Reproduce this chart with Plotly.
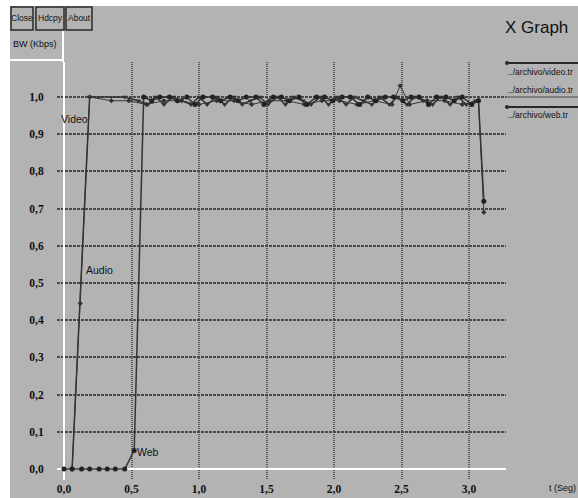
import plotly.graph_objects as go

# ---------------- data ----------------
web_t = [0.00, 0.06, 0.13, 0.19, 0.26, 0.32, 0.38, 0.45, 0.52,
         0.59, 0.65, 0.71, 0.78, 0.84, 0.91, 0.97, 1.03, 1.10, 1.16,
         1.23, 1.29, 1.35, 1.42, 1.48, 1.55, 1.61, 1.67, 1.74, 1.80,
         1.87, 1.93, 1.99, 2.06, 2.12, 2.19, 2.25, 2.31, 2.38, 2.44,
         2.51, 2.57, 2.63, 2.70, 2.76, 2.83, 2.89, 2.95, 3.02, 3.07, 3.11]
web_y = [0, 0, 0, 0, 0, 0, 0, 0, 0.05,
         1.0, 0.99, 1.0, 1.0, 0.99, 1.0, 0.98, 1.0, 1.0, 0.99,
         1.0, 0.99, 1.0, 1.0, 0.98, 1.0, 1.0, 0.99, 1.0, 0.98,
         1.0, 1.0, 0.99, 1.0, 1.0, 0.98, 1.0, 0.99, 1.0, 1.0,
         0.99, 1.0, 1.0, 0.98, 1.0, 1.0, 0.99, 1.0, 0.98, 0.99, 0.72]

video_t = [0.06, 0.19, 0.45, 0.55,
           0.62, 0.68, 0.74, 0.81, 0.87, 0.94, 1.00, 1.06, 1.13, 1.19,
           1.26, 1.32, 1.38, 1.45, 1.51, 1.58, 1.64, 1.70, 1.77, 1.83,
           1.90, 1.96, 2.02, 2.09, 2.15, 2.22, 2.28, 2.34, 2.41, 2.47,
           2.54, 2.60, 2.66, 2.73, 2.79, 2.86, 2.92, 2.98, 3.05]
video_y = [0.0, 1.0, 1.0, 0.99,
           0.98, 1.0, 0.98, 1.0, 0.99, 0.98, 1.0, 0.98, 1.0, 0.98,
           1.0, 0.98, 0.99, 1.0, 0.98, 1.0, 0.98, 1.0, 0.99, 0.98,
           1.0, 0.98, 1.0, 0.98, 1.0, 0.99, 0.98, 1.0, 0.98, 1.0,
           0.98, 1.0, 0.99, 0.98, 1.0, 0.98, 1.0, 0.98, 0.99]

audio_t = [0.06, 0.12, 0.19, 0.35, 0.48, 0.61, 0.74, 0.87, 1.00, 1.13,
           1.26, 1.39, 1.52, 1.65, 1.78, 1.91, 2.04, 2.17, 2.30, 2.43,
           2.49, 2.56, 2.69, 2.82, 2.95, 3.07, 3.11]
audio_y = [0.0, 0.445, 1.0, 0.99, 0.99, 0.98, 0.99, 0.99, 0.98, 0.99,
           0.99, 0.98, 0.99, 0.99, 0.98, 0.99, 0.99, 0.98, 0.99, 0.98,
           1.03, 0.98, 0.99, 0.99, 0.98, 0.99, 0.69]

x_ticks = [0.0, 0.5, 1.0, 1.5, 2.0, 2.5, 3.0]
x_tick_labels = ["0,0", "0,5", "1,0", "1,5", "2,0", "2,5", "3,0"]
y_ticks = [0.0, 0.1, 0.2, 0.3, 0.4, 0.5, 0.6, 0.7, 0.8, 0.9, 1.0]
y_tick_labels = ["0,0", "0,1", "0,2", "0,3", "0,4", "0,5", "0,6",
                 "0,7", "0,8", "0,9", "1,0"]

legend_names = ["../archivo/video.tr", "../archivo/audio.tr", "../archivo/web.tr"]

# ---------------- layout helpers ----------------
W, H = 578, 498
L, R, T, B = 57, 506, 62, 480          # plot area in pixels
BG = "#b3b3b3"
DARK = "#2a2a2a"
SANS = "Liberation Sans, Arial, sans-serif"


def xp(px):
    return (px - L) / (R - L)


def yp(py):
    return (B - py) / (B - T)


fig = go.Figure()

fig.add_trace(go.Scatter(
    x=audio_t, y=audio_y, mode="lines+markers", name=legend_names[1],
    line=dict(color="#3a3a3a", width=1),
    marker=dict(symbol="diamond", size=4, color="#333"),
    cliponaxis=False, showlegend=False))
fig.add_trace(go.Scatter(
    x=video_t, y=video_y, mode="lines+markers", name=legend_names[0],
    line=dict(color="#333", width=1.5),
    marker=dict(symbol="triangle-down", size=5, color="#333"),
    cliponaxis=False, showlegend=False))
fig.add_trace(go.Scatter(
    x=web_t, y=web_y, mode="lines+markers", name=legend_names[2],
    line=dict(color="#333", width=1.5),
    marker=dict(symbol="circle", size=5, color="#222"),
    cliponaxis=False, showlegend=False))

shapes = []


def rect(x0, x1, y0, y1, **kw):
    shapes.append(dict(type="rect", xref="paper", yref="paper",
                       x0=xp(x0), x1=xp(x1), y0=yp(y0), y1=yp(y1), **kw))


def hline(x0, x1, y, color, width):
    shapes.append(dict(type="line", xref="paper", yref="paper",
                       x0=xp(x0), x1=xp(x1), y0=yp(y), y1=yp(y),
                       line=dict(color=color, width=width)))


# white margins
rect(0, W, 0, 6, fillcolor="white", line=dict(width=0), layer="above")
rect(0, 10, 0, H, fillcolor="white", line=dict(width=0), layer="above")
# buttons
for bx0, bx1 in [(11, 33), (36, 64), (66, 92)]:
    rect(bx0, bx1, 7, 30, line=dict(color=DARK, width=1.5), layer="above")
# BW label box edges (white)
hline(10, 63, 60, "white", 2)
shapes.append(dict(type="line", xref="paper", yref="paper",
                   x0=xp(63), x1=xp(63), y0=yp(31), y1=yp(62),
                   line=dict(color="white", width=2)))
# legend lines
hline(507, W, 63, DARK, 2)
hline(506, W, 97, "#444", 1)
hline(507, W, 107, DARK, 2)
for cy in (63, 107):
    shapes.append(dict(type="circle", xref="paper", yref="paper",
                       x0=xp(505), x1=xp(509), y0=yp(cy + 2), y1=yp(cy - 2),
                       fillcolor=DARK, line=dict(width=0)))

annotations = []


def txt(s, x, y, size=10, anchor="center", font=SANS, color="#111"):
    annotations.append(dict(text=s, x=xp(x), y=yp(y), xref="paper", yref="paper",
                            showarrow=False, xanchor=anchor, yanchor="middle",
                            font=dict(family=font, size=size, color=color)))


txt("Close", 22, 18, size=8.5)
txt("Hdcpy", 50, 18, size=8.5)
txt("About", 79, 18, size=8.5)
txt("BW (Kbps)", 35, 44, size=9)
txt("X Graph", 536, 27, size=17)
txt(legend_names[0], 506, 72, size=8.5, anchor="left")
txt(legend_names[1], 506, 90, size=8.5, anchor="left")
txt(legend_names[2], 506, 115, size=8.5, anchor="left")
txt("t (Seg)", 562, 488, size=9)
txt("Video", 74, 119, size=10.5)
txt("Audio", 99, 270, size=10.5)
txt("Web", 148, 452, size=10.5)

tickfont = dict(family="Liberation Serif, DejaVu Serif, serif", size=11.5,
                color="#111", weight="bold")

fig.update_layout(
    width=W, height=H,
    margin=dict(l=L, r=W - R, t=T, b=H - B, pad=0, autoexpand=False),
    paper_bgcolor=BG, plot_bgcolor=BG,
    shapes=shapes, annotations=annotations,
    xaxis=dict(range=[-0.052, 3.274], tickvals=x_ticks, ticktext=x_tick_labels,
               showgrid=True, gridcolor="#5a5a5a", gridwidth=1.5, griddash="1px,1px",
               zeroline=True, zerolinecolor="white", zerolinewidth=2,
               showline=False, ticks="", ticklen=0,
               tickfont=tickfont, fixedrange=True, automargin=False),
    yaxis=dict(range=[-0.0296, 1.0941], tickvals=y_ticks, ticktext=y_tick_labels,
               showgrid=True, gridcolor="#4a4a4a", gridwidth=2, griddash="3px,1px",
               zeroline=True, zerolinecolor="white", zerolinewidth=2,
               showline=False, ticks="outside", ticklen=10, tickcolor=BG,
               tickfont=tickfont, fixedrange=True, automargin=False),
    showlegend=False,
)

fig.write_html("out.html")
